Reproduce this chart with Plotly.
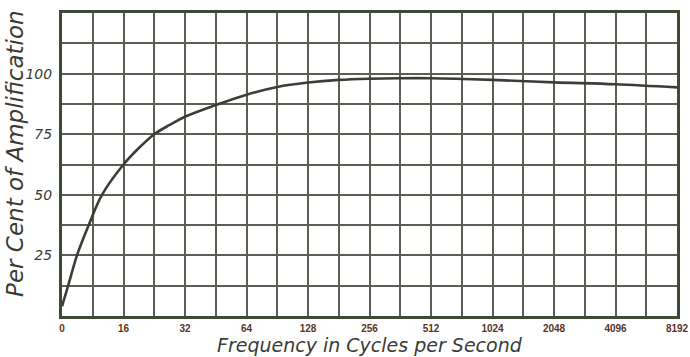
import plotly.graph_objects as go

# x positions are in grid units (each labelled frequency is one unit apart)
freq_labels = ["0", "16", "32", "64", "128", "256", "512", "1024", "2048", "4096", "8192"]
curve_pos = [0, 0.1, 0.25, 0.45, 0.65, 1.0, 1.25, 1.5, 1.75, 2.0, 2.5, 3.0,
             3.5, 4.0, 4.5, 5.0, 5.5, 6.0, 6.5, 7.0, 8.0, 9.0, 10.0]
amplification = [4, 12.5, 25.5, 38.5, 50, 62.5, 69.3, 75, 78.8, 82.2, 87, 91.3,
                 94.5, 96.3, 97.4, 97.9, 98.1, 98.1, 97.8, 97.4, 96.4, 95.6, 94.3]
y_labels = [25, 50, 75, 100]

grid_col = "#5b5e52"
ink = "#3a3b36"
hand = "DejaVu Sans"

x_ticks = [i * 0.5 for i in range(21)]
x_text = [freq_labels[int(v)] if v == int(v) else "" for v in x_ticks]
y_ticks = [i * 12.5 for i in range(11)]
y_text = [str(int(v)) if v in y_labels else "" for v in y_ticks]

fig = go.Figure()
fig.add_trace(go.Scatter(x=curve_pos, y=amplification, mode="lines", line_shape="spline",
                         line=dict(color="#3c3d37", width=2.6), hoverinfo="skip"))

fig.update_layout(
    width=690, height=357, margin=dict(l=62, r=13, t=13, b=41),
    paper_bgcolor="white", plot_bgcolor="white", showlegend=False,
    xaxis=dict(range=[0, 10], tickvals=x_ticks, ticktext=x_text, showgrid=True,
               gridcolor=grid_col, gridwidth=2, zeroline=False, showline=True,
               linecolor="#3d4a35", linewidth=3, mirror=True, ticks="",
               tickfont=dict(family="Liberation Sans", size=10, color="#5a3428", weight="bold"),
               ticklabelstandoff=1, ticklabeloverflow="allow", automargin=False),
    yaxis=dict(range=[0, 125], tickvals=y_ticks, ticktext=y_text, showgrid=True,
               gridcolor=grid_col, gridwidth=2, zeroline=False, showline=True,
               linecolor="#3d4a35", linewidth=3, mirror=True, ticks="",
               tickfont=dict(family=hand, size=14, color=ink, style="italic"),
               ticklabelstandoff=4, automargin=False),
    annotations=[
        dict(text="Frequency in Cycles per Second", xref="paper", yref="paper",
             x=0.5, y=-0.052, xanchor="center", yanchor="top", showarrow=False,
             font=dict(family=hand, size=19, color=ink, style="italic")),
        dict(text="Per Cent of Amplification", xref="paper", yref="paper",
             x=-0.052, y=0.535, xanchor="right", yanchor="middle", textangle=-90,
             showarrow=False,
             font=dict(family=hand, size=23, color=ink, style="italic")),
    ],
)

# page margin would push the 690px figure past the window edge
fig.write_html("out.html", config={"displayModeBar": False},
               post_script="document.body.style.margin = '0';")
